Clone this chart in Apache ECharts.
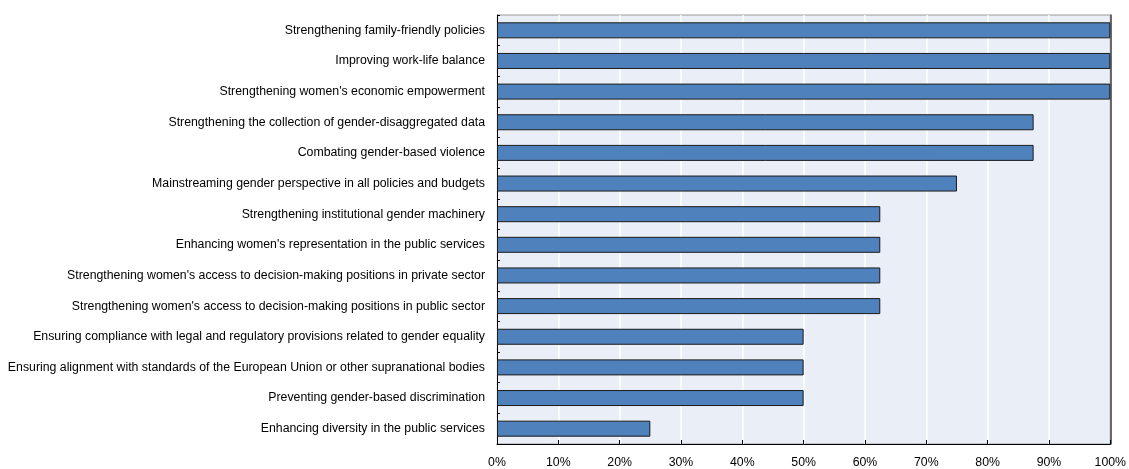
<!DOCTYPE html>
<html>
<head>
<meta charset="utf-8">
<script src="https://cdn.jsdelivr.net/npm/echarts@6/dist/echarts.min.js"></script>
<style>
  html, body { margin: 0; padding: 0; background: #fff; }
  #chart { width: 1129px; height: 469px; }
</style>
</head>
<body>
<div id="chart"></div>
<script>
// Categories listed bottom to top (ECharts category y-axis starts at the bottom)
const categories = [
  "Enhancing diversity in the public services",
  "Preventing gender-based discrimination",
  "Ensuring alignment with standards of the European Union or other supranational bodies",
  "Ensuring compliance with legal and regulatory provisions related to gender equality",
  "Strengthening women's access to decision-making positions in public sector",
  "Strengthening women's access to decision-making positions in private sector",
  "Enhancing women's representation in the public services",
  "Strengthening institutional gender machinery",
  "Mainstreaming gender perspective in all policies and budgets",
  "Combating gender-based violence",
  "Strengthening the collection of gender-disaggregated data",
  "Strengthening women's economic empowerment",
  "Improving work-life balance",
  "Strengthening family-friendly policies"
];
const shares = [25, 50, 50, 50, 62.5, 62.5, 62.5, 62.5, 75, 87.5, 87.5, 100, 100, 100];
const xTicks = [0, 10, 20, 30, 40, 50, 60, 70, 80, 90, 100];

const chart = echarts.init(document.getElementById('chart'), null, { renderer: 'canvas' });
const font = 'Arial, "Liberation Sans", sans-serif';

chart.setOption({
  animation: false,
  grid: {
    left: 497, right: 15, top: 15, bottom: 25,
    show: true,
    backgroundColor: '#eaeef7',
    borderColor: '#9a9a9a',
    borderWidth: 1
  },
  xAxis: {
    type: 'value',
    min: xTicks[0],
    max: xTicks[xTicks.length - 1],
    interval: 10,
    axisLine: { show: true, lineStyle: { color: '#000', width: 1 } },
    axisTick: { show: true, inside: true, length: 4, lineStyle: { color: '#000' } },
    splitLine: { show: true, lineStyle: { color: '#ffffff', width: 1.5 } },
    axisLabel: {
      formatter: v => v + '%',
      color: '#000',
      fontFamily: font,
      fontSize: 12.3,
      margin: 13
    }
  },
  yAxis: [{
    type: 'category',
    data: categories,
    axisLine: { show: true, lineStyle: { color: '#000', width: 1 } },
    axisTick: { show: true, inside: true, length: 3, lineStyle: { color: '#000' } },
    axisLabel: {
      color: '#000',
      fontFamily: font,
      fontSize: 12.3,
      margin: 12
    }
  }, {
    // right-hand frame edge, drawn darker than the top border
    type: 'category',
    data: categories,
    position: 'right',
    axisLine: { show: true, lineStyle: { color: '#3a3a3a', width: 1.5 } },
    axisTick: { show: false },
    axisLabel: { show: false },
    splitLine: { show: false }
  }],
  series: [{
    type: 'bar',
    data: shares,
    barWidth: 16,
    itemStyle: {
      color: '#4f81bd',
      borderColor: '#1a1a1a',
      borderWidth: 1
    }
  }]
});
</script>
</body>
</html>
